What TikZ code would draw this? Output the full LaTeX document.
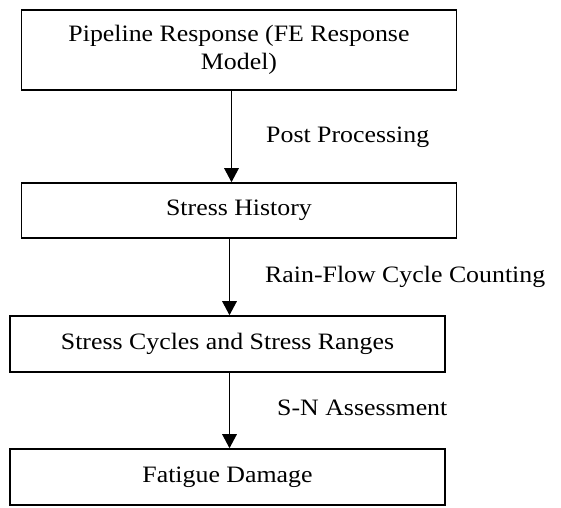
\documentclass[tikz,border=0pt]{standalone}
\usepackage{fontspec}
\setmainfont[FakeStretch=1.1]{Liberation Serif}
\usetikzlibrary{arrows.meta}
\begin{document}
\begin{tikzpicture}[x=1pt,y=-1pt,
  txt/.style={font=\fontsize{23.5}{28.5}\selectfont},
  box/.style={txt, draw, line width=1.6pt, inner sep=0pt, align=center, minimum width=435pt},
  lbl/.style={txt, anchor=base west, inner sep=0pt},
  arr/.style={line width=1.4pt, -{Triangle[width=14.5pt,length=14pt]}}]
\useasboundingbox (0,0) rectangle (561,507);
\node[box, minimum height=80pt] (b1) at (239,50) {Pipeline Response (FE Response\\Model)};
\node[box, minimum height=55pt] (b2) at (239,210.5) {Stress History};
\node[box, minimum height=56pt] (b3) at (227.5,344) {Stress Cycles and Stress Ranges};
\node[box, minimum height=56pt] (b4) at (227.5,477) {Fatigue Damage};
\coordinate (c1) at (231.5,0);
\coordinate (c2) at (229.5,0);
\draw[arr] (b1.south -| c1) -- (b2.north -| c1);
\draw[arr] (b2.south -| c2) -- (b3.north -| c2);
\draw[arr] (b3.south -| c2) -- (b4.north -| c2);
\node[lbl] (l1) at (266,142) {Post Processing};
\node[lbl] (l2) at (265,282) {Rain-Flow Cycle Counting};
\node[lbl] (l3) at (277,415) {S-N Assessment};
\end{tikzpicture}
\end{document}
